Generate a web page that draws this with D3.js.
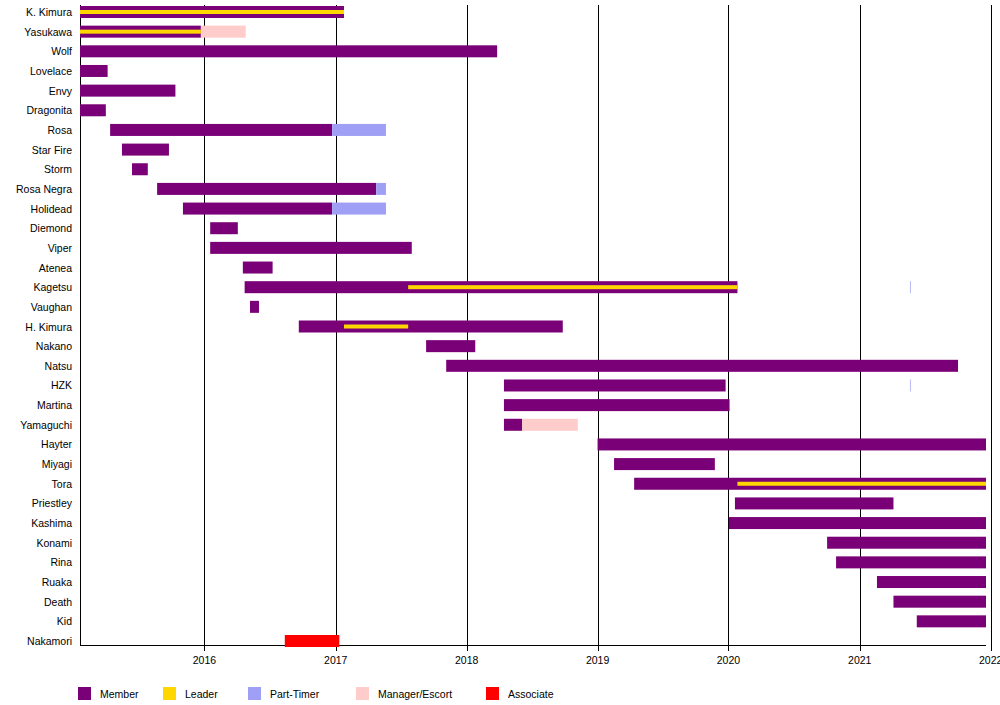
<!DOCTYPE html>
<html>
<head>
<meta charset="utf-8">
<script src="https://cdn.jsdelivr.net/npm/d3@7"></script>
<style>
    body { margin: 0; background: #ffffff; }
    text { font-family: "Liberation Sans", Arial, sans-serif; font-size: 10.5px; fill: #000000; }
</style>
</head>
<body>
<div id="timeline_div"></div>
<script>

const period_start = "2015-01-19";
const period_end = "2021-12-19";

const members = ["K. Kimura", "Yasukawa", "Wolf", "Lovelace", "Envy", "Dragonita", "Rosa", "Star Fire",
    "Storm", "Rosa Negra", "Holidead", "Diemond", "Viper", "Atenea", "Kagetsu", "Vaughan", "H. Kimura",
    "Nakano", "Natsu", "HZK", "Martina", "Yamaguchi", "Hayter", "Miyagi", "Tora", "Priestley", "Kashima",
    "Konami", "Rina", "Ruaka", "Death", "Kid", "Nakamori"];

// [name, from, till] -- "start" / "end" mean the period limits
const member_spans = [
    ["K. Kimura", "start", "2017-01-24"],
    ["Yasukawa", "start", "2015-12-22"],
    ["Wolf", "start", "2018-03-27"],
    ["Lovelace", "start", "2015-04-06"],
    ["Envy", "start", "2015-10-12"],
    ["Dragonita", "start", "2015-04-01"],
    ["Rosa", "2015-04-13", "2016-12-22"],
    ["Star Fire", "2015-05-16", "2015-09-24"],
    ["Storm", "2015-06-13", "2015-07-27"],
    ["Rosa Negra", "2015-08-22", "2017-04-24"],
    ["Holidead", "2015-11-02", "2016-12-22"],
    ["Diemond", "2016-01-17", "2016-04-03"],
    ["Viper", "2016-01-17", "2017-08-01"],
    ["Atenea", "2016-04-17", "2016-07-09"],
    ["Kagetsu", "2016-04-22", "2020-01-26"],
    ["Vaughan", "2016-05-07", "2016-06-01"],
    ["H. Kimura", "2016-09-20", "2018-09-26"],
    ["Nakano", "2017-09-10", "2018-01-25"],
    ["Natsu", "2017-11-05", "2021-10-02"],
    ["HZK", "2018-04-15", "2019-12-24"],
    ["Martina", "2018-04-15", "2020-01-04"],
    ["Yamaguchi", "2018-04-15", "2018-06-05"],
    ["Hayter", "2019-01-01", "end"],
    ["Miyagi", "2019-02-16", "2019-11-24"],
    ["Tora", "2019-04-13", "end"],
    ["Priestley", "2020-01-19", "2021-04-05"],
    ["Kashima", "2020-01-02", "end"],
    ["Konami", "2020-10-02", "end"],
    ["Rina", "2020-10-27", "end"],
    ["Ruaka", "2021-02-18", "end"],
    ["Death", "2021-04-05", "end"],
    ["Kid", "2021-06-09", "end"]
];

const leader_spans = [
    ["K. Kimura", "start", "2017-01-24"],
    ["Yasukawa", "start", "2015-12-22"],
    ["H. Kimura", "2017-01-24", "2017-07-22"],
    ["Kagetsu", "2017-07-22", "2020-01-26"],
    ["Tora", "2020-01-26", "end"]
];

const part_timer_spans = [
    ["Rosa", "2016-12-22", "2017-05-21"],
    ["Rosa Negra", "2017-04-24", "2017-05-21"],
    ["Holidead", "2016-12-22", "2017-05-21"],
    ["Kagetsu", "2021-05-21", "2021-05-23"],
    ["HZK", "2021-05-21", "2021-05-23"]
];

const manager_spans = [
    ["Yasukawa", "2015-12-22", "2016-04-25"],
    ["Yamaguchi", "2018-06-05", "2018-11-07"]
];

const associate_spans = [
    ["Nakamori", "2016-08-12", "2017-01-11"]
];

const year_ticks = ["2016", "2017", "2018", "2019", "2020", "2021", "2022"];

const legend_labels = ["Member", "Leader", "Part-Timer", "Manager/Escort", "Associate"];
const legend_colors = ["#7a0077", "#ffd700", "#9f9ff5", "#ffcccc", "#ff0000"];
const legend_x = [78, 163, 248, 356, 486];

let x, y;
const parse_date = d3.timeParse("%Y-%m-%d");

function span_date(s) {
    if (s === "start") return parse_date(period_start);
    if (s === "end") return parse_date(period_end);
    return parse_date(s);
}

function draw_timeline() {

    let svg = d3.select('#timeline_div').append('svg')
        .attr('width', 1000)
        .attr('height', 705);

    let margin = {top: 5, left: 80, right: 986, bottom: 645};

    x = d3.scaleTime()
        .domain([parse_date(period_start), parse_date(period_end)])
        .range([margin.left, margin.right]);

    y = d3.scalePoint()
        .domain(members)
        .range([12, 641]);

    // year grid lines, they run a little under the axis like ticks
    let grid = svg.append('g').attr('class', 'grid');
    grid.selectAll('line')
        .data(year_ticks)
        .enter().append('line')
        .attr('x1', d => Math.round(x(parse_date(d + '-01-01'))) + 0.5)
        .attr('x2', d => Math.round(x(parse_date(d + '-01-01'))) + 0.5)
        .attr('y1', margin.top)
        .attr('y2', margin.bottom + 6)
        .attr('stroke', '#000')
        .attr('stroke-width', 1);

    grid.selectAll('text')
        .data(year_ticks)
        .enter().append('text')
        .attr('x', d => x(parse_date(d + '-01-01')))
        .attr('y', 664)
        .attr('text-anchor', 'middle')
        .text(d => d);

    // axis frame
    svg.append('line')
        .attr('x1', margin.left + 0.5).attr('x2', margin.left + 0.5)
        .attr('y1', margin.top).attr('y2', margin.bottom + 0.5)
        .attr('stroke', '#000');
    svg.append('line')
        .attr('x1', margin.left).attr('x2', margin.right)
        .attr('y1', margin.bottom + 0.5).attr('y2', margin.bottom + 0.5)
        .attr('stroke', '#000');

    // row labels
    svg.append('g').selectAll('text')
        .data(members)
        .enter().append('text')
        .attr('x', 72)
        .attr('y', d => y(d) + 4)
        .attr('text-anchor', 'end')
        .text(d => d);

    draw_bars(svg, member_spans, legend_colors[0], 12);
    draw_bars(svg, part_timer_spans, legend_colors[2], 12);
    draw_bars(svg, manager_spans, legend_colors[3], 12);
    draw_bars(svg, associate_spans, legend_colors[4], 12);
    draw_bars(svg, leader_spans, legend_colors[1], 4);

    draw_legend(svg);
}

function draw_bars(svg, spans, color, bar_height) {
    svg.append('g')
        .attr('fill', color)
        .selectAll('rect')
        .data(spans)
        .enter().append('rect')
        .attr('x', d => x(span_date(d[1])))
        .attr('width', d => x(span_date(d[2])) - x(span_date(d[1])))
        .attr('y', d => y(d[0]) - bar_height / 2)
        .attr('height', bar_height);
}

function draw_legend(svg) {
    let items = svg.append('g').selectAll('g')
        .data(legend_labels)
        .enter().append('g')
        .attr('transform', (d, i) => `translate(${legend_x[i]},687)`);

    items.append('rect')
        .attr('width', 13)
        .attr('height', 13)
        .attr('fill', (d, i) => legend_colors[i]);

    items.append('text')
        .attr('x', 22)
        .attr('y', 11)
        .text(d => d);
}

draw_timeline();

</script>
</body>
</html>
